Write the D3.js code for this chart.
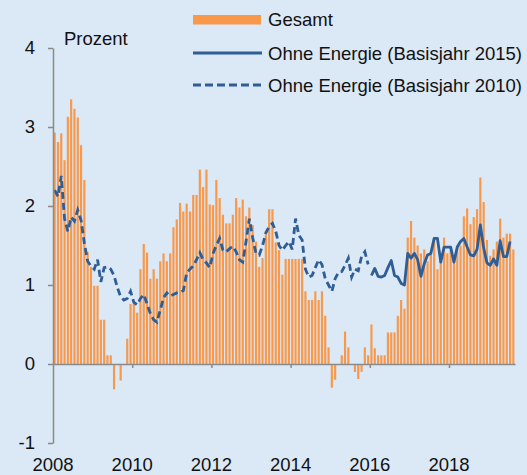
<!DOCTYPE html>
<html>
<head>
<meta charset="utf-8">
<script src="https://cdn.jsdelivr.net/npm/d3@7"></script>
<style>
  html, body { margin: 0; padding: 0; background: #dbe8f5; }
  svg { display: block; font-family: "Liberation Sans", Arial, sans-serif; }
</style>
</head>
<body>
<svg id="chart"></svg>
<script>
const width = 527
const height = 475

// Monatswerte ab Januar 2008 (Index 0) bis August 2019
const yearLabels = ['2008', '2010', '2012', '2014', '2016', '2018']
const yTicks = [-1, 0, 1, 2, 3, 4]

// Gesamt (Balken)
const gesamt = [
  2.93, 2.81, 2.92, 2.58, 3.13, 3.35, 3.23, 3.12, 2.77, 2.33, 1.42, 1.23,
  0.99, 0.99, 0.56, 0.56, 0.11, 0.11, -0.32, 0, -0.21, 0, 0.32, 0.76,
  0.76, 0.65, 1.2, 1.52, 1.41, 1.08, 1.2, 1.08, 1.3, 1.4, 1.3, 1.4,
  1.73, 1.83, 2.04, 1.93, 2.03, 1.93, 2.14, 2.14, 2.46, 2.24, 2.46, 2.02,
  2.01, 2.33, 2.1, 1.89, 1.78, 1.78, 1.89, 2.1, 1.98, 2.08, 1.87, 1.98,
  1.76, 1.55, 1.23, 1.34, 1.64, 1.96, 1.96, 1.54, 1.44, 1.13, 1.33, 1.33,
  1.33, 1.33, 1.33, 1.33, 0.92, 0.81, 0.81, 0.92, 0.81, 0.92, 0.61, 0.21,
  -0.3, -0.2, 0, 0.11, 0.41, 0.21, 0, -0.1, -0.19, -0.1, 0.21, 0.11,
  0.5, 0.2, 0.11, 0.11, 0.11, 0.4, 0.4, 0.4, 0.61, 0.81, 0.7, 1.6,
  1.81, 1.6, 1.5, 1.4, 1.45, 1.3, 1.4, 1.6, 1.2, 1.4, 1.6, 1.4,
  1.45, 1.38, 1.49, 1.5, 1.87, 1.97, 1.77, 1.86, 1.96, 2.36, 2.05, 1.57,
  1.37, 1.45, 1.55, 1.84, 1.6, 1.65, 1.65, 1.45
]

// Ohne Energie (Basisjahr 2010), Jan 2008 - Dez 2015
const ohne2010 = [
  2.2, 2.12, 2.38, 1.84, 1.68, 1.86, 1.81, 1.95, 1.82, 1.53, 1.3, 1.24,
  1.2, 1.32, 1.04, 1.22, 1.23, 1.2, 1.12, 0.97, 0.85, 0.81, 0.83, 0.92,
  0.78, 0.75, 0.83, 0.88, 0.76, 0.64, 0.56, 0.53, 0.68, 0.84, 0.9, 0.86,
  0.88, 0.9, 0.91, 0.93, 1.15, 1.2, 1.24, 1.32, 1.41, 1.32, 1.28, 1.22,
  1.4, 1.5, 1.59, 1.44, 1.42, 1.46, 1.49, 1.42, 1.32, 1.29, 1.55, 1.84,
  1.6, 1.4, 1.38, 1.5, 1.66, 1.74, 1.78, 1.68, 1.5, 1.44, 1.5, 1.55,
  1.45, 1.84, 1.63, 1.57, 1.2, 1.1, 1.12, 1.22, 1.32, 1.26, 1.08, 1.0,
  0.92, 1.08, 1.16, 1.17, 1.25, 1.34, 1.1, 1.2, 1.18, 1.36, 1.42, 1.26
]

// Ohne Energie (Basisjahr 2015), Jan 2016 - Jul 2019
const ohne2015Start = 96
const ohne2015 = [
  1.12, 1.21, 1.11, 1.1, 1.12, 1.22, 1.31, 1.12, 1.1, 1.02, 1.0, 1.4,
  1.34, 1.4, 1.32, 1.11, 1.27, 1.38, 1.4, 1.59, 1.59, 1.29, 1.48, 1.48,
  1.48, 1.29, 1.48, 1.55, 1.59, 1.48, 1.38, 1.37, 1.45, 1.76, 1.47, 1.28,
  1.25, 1.33, 1.25, 1.56, 1.36, 1.36, 1.55
]

const orange = '#f7984a'
const blue = '#2f5d96'
const axisGrey = '#8a8a8a'
const fontSize = 18.5

const svg = d3.select('#chart')
  .attr('width', width)
  .attr('height', height)

svg.append('rect')
  .attr('width', width)
  .attr('height', height)
  .attr('fill', '#dbe8f5')

// Skalen: x in Monaten (Index), y in Prozent
const x = d3.scaleLinear()
  .domain([0, gesamt.length])
  .range([53, 515])

const y = d3.scaleLinear()
  .domain([-1, 4])
  .range([443, 48])

const step = x(1) - x(0)
const barW = step * 0.65

// Balken
svg.append('g')
  .selectAll('rect')
  .data(gesamt)
  .join('rect')
  .attr('x', (d, i) => x(i + 0.5) - barW / 2)
  .attr('y', d => y(Math.max(0, d)))
  .attr('width', barW)
  .attr('height', d => Math.abs(y(d) - y(0)))
  .attr('fill', orange)

// Linien
const line = d3.line()
  .x(d => x(d.i + 0.5))
  .y(d => y(d.v))

svg.append('path')
  .datum(ohne2010.map((v, i) => ({i, v})))
  .attr('d', line)
  .attr('fill', 'none')
  .attr('stroke', blue)
  .attr('stroke-width', 2.8)
  .attr('stroke-dasharray', '7,4')

svg.append('path')
  .datum(ohne2015.map((v, i) => ({i: i + ohne2015Start, v})))
  .attr('d', line)
  .attr('fill', 'none')
  .attr('stroke', blue)
  .attr('stroke-width', 2.8)
  .attr('stroke-linejoin', 'round')

// y-Achse
const yAxis = svg.append('g')
  .attr('transform', `translate(${x(0)},0)`)
  .call(d3.axisLeft(y)
    .tickValues(yTicks)
    .tickFormat(d => String(d))
    .tickSize(5)
    .tickSizeOuter(0)
    .tickPadding(13))
yAxis.select('.domain').attr('stroke', axisGrey).attr('stroke-width', 1.5)
yAxis.selectAll('.tick line').attr('stroke', axisGrey).attr('stroke-width', 1.5)
yAxis.selectAll('.tick text')
  .attr('font-size', fontSize)
  .attr('font-family', '"Liberation Sans", Arial, sans-serif')
  .attr('fill', '#111')

// x-Achse (Nulllinie)
const xAxis = svg.append('g')
  .attr('transform', `translate(0,${y(0)})`)
  .call(d3.axisBottom(x).tickValues([24, 48, 72, 96, 120]).tickSize(4).tickSizeOuter(0).tickFormat(''))
xAxis.select('.domain').attr('stroke', axisGrey).attr('stroke-width', 1.5)
xAxis.selectAll('.tick line').attr('stroke', axisGrey).attr('stroke-width', 1.5)

// Jahresbeschriftung unten
svg.append('g')
  .selectAll('text')
  .data(yearLabels)
  .join('text')
  .attr('x', (d, i) => x(i * 24))
  .attr('y', 471)
  .attr('text-anchor', 'middle')
  .attr('font-size', fontSize)
  .attr('fill', '#111')
  .text(d => d)

svg.append('text')
  .attr('x', 64)
  .attr('y', 45)
  .attr('font-size', fontSize)
  .attr('fill', '#111')
  .text('Prozent')

// Legende
const legend = svg.append('g')
legend.append('rect')
  .attr('x', 193).attr('y', 15)
  .attr('width', 68).attr('height', 9.5)
  .attr('fill', orange)
legend.append('line')
  .attr('x1', 193).attr('x2', 262)
  .attr('y1', 53).attr('y2', 53)
  .attr('stroke', blue).attr('stroke-width', 3)
legend.append('line')
  .attr('x1', 193).attr('x2', 262)
  .attr('y1', 85).attr('y2', 85)
  .attr('stroke', blue).attr('stroke-width', 3)
  .attr('stroke-dasharray', '8,4')

const legendLabels = ['Gesamt', 'Ohne Energie (Basisjahr 2015)', 'Ohne Energie (Basisjahr 2010)']
const legendY = [26, 60, 92]
legend.selectAll('text')
  .data(legendLabels)
  .join('text')
  .attr('x', 268)
  .attr('y', (d, i) => legendY[i])
  .attr('font-size', fontSize)
  .attr('fill', '#111')
  .text(d => d)
</script>
</body>
</html>
